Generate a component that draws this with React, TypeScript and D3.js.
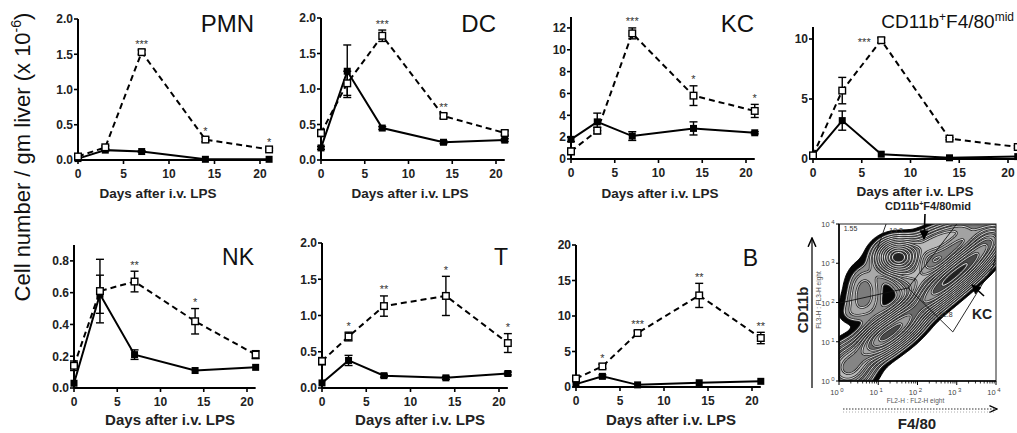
import React from 'react';
import * as d3 from 'd3';

const FONT = "'Liberation Sans', Arial, Helvetica, sans-serif";

// ---------- data ----------
const days = [0, 3, 7, 14, 21];
const xTicks = [0, 5, 10, 15, 20];

const pmnLps = [0.05, 0.18, 1.53, 0.29, 0.15];
const pmnLpsErr = [0.02, 0.02, 0.03, 0.03, 0.02];
const pmnCtl = [0.02, 0.14, 0.12, 0.01, 0.01];
const pmnCtlErr = [0, 0.01, 0.01, 0, 0];
const pmnStars = ['', '', '***', '*', '*'];
const pmnTicks = [0, 0.5, 1.0, 1.5, 2.0];

const dcLps = [0.38, 1.08, 1.75, 0.62, 0.38];
const dcLpsErr = [0.05, 0.17, 0.08, 0.03, 0.03];
const dcCtl = [0.17, 1.25, 0.45, 0.25, 0.28];
const dcCtlErr = [0.02, 0.37, 0.02, 0.02, 0.02];
const dcStars = ['', '', '***', '**', ''];
const dcTicks = [0, 0.5, 1.0, 1.5, 2.0];

const kcLps = [0.7, 2.6, 11.5, 5.8, 4.4];
const kcLpsErr = [0.3, 0.3, 0.5, 0.9, 0.6];
const kcCtl = [1.8, 3.4, 2.1, 2.8, 2.4];
const kcCtlErr = [0.2, 0.8, 0.4, 0.6, 0.1];
const kcStars = ['', '', '***', '*', '*'];
const kcTicks = [0, 2, 4, 6, 8, 10, 12];

const midLps = [0.3, 5.7, 9.9, 1.7, 1.0];
const midLpsErr = [0.1, 1.1, 0.2, 0.1, 0.1];
const midCtl = [0.3, 3.2, 0.4, 0.1, 0.2];
const midCtlErr = [0, 0.8, 0, 0, 0];
const midStars = ['', '', '***', '', ''];
const midTicks = [0, 5, 10];

const nkLps = [0.14, 0.61, 0.67, 0.42, 0.21];
const nkLpsErr = [0.03, 0.2, 0.065, 0.08, 0.025];
const nkCtl = [0.03, 0.59, 0.21, 0.11, 0.13];
const nkCtlErr = [0, 0.12, 0.03, 0, 0];
const nkStars = ['', '', '**', '*', ''];
const nkTicks = [0, 0.2, 0.4, 0.6, 0.8];

const tLps = [0.37, 0.71, 1.13, 1.27, 0.62];
const tLpsErr = [0.05, 0.06, 0.14, 0.27, 0.13];
const tCtl = [0.07, 0.38, 0.17, 0.14, 0.2];
const tCtlErr = [0, 0.07, 0.02, 0.02, 0.02];
const tStars = ['', '*', '**', '*', '*'];
const tTicks = [0, 0.5, 1.0, 1.5, 2.0];

const bLps = [1.2, 2.9, 7.6, 12.9, 6.9];
const bLpsErr = [0.3, 0.3, 0.3, 1.7, 0.8];
const bCtl = [0.4, 1.5, 0.3, 0.6, 0.8];
const bCtlErr = [0, 0.2, 0, 0, 0];
const bStars = ['', '*', '***', '**', '**'];
const bTicks = [0, 5, 10, 15, 20];

// flow plot: density blobs (log10 F4/80, log10 CD11b, sigma along, sigma across, angle, weight)
const flowBlobs: number[][] = [
  [1.5, 3.15, 0.32, 0.26, 0, 1.35],
  [2.35, 3.45, 0.4, 0.22, 10, 0.35],
  [0.65, 2.35, 0.28, 0.38, 0, 0.25],
  [0.55, 1.9, 0.35, 0.25, 0, 0.1],
  [0.3, 1.7, 0.2, 0.15, 0, 0.06],
  [2.95, 3.8, 0.5, 0.2, 15, 0.35],
  [0.25, 0.35, 0.4, 0.35, 40, 0.55],
  [1.05, 1.05, 0.42, 0.25, 35, 0.95],
  [1.65, 1.5, 0.4, 0.25, 40, 0.8],
  [2.3, 2.15, 0.42, 0.24, 42, 0.75],
  [2.8, 2.6, 0.4, 0.24, 45, 0.85],
  [3.3, 3.0, 0.4, 0.24, 45, 0.85],
  [3.8, 3.5, 0.4, 0.24, 45, 0.7],
  [1.95, 2.65, 0.38, 0.25, 30, 0.3],
];
const flowLevels = [0.03, 0.07, 0.11, 0.16, 0.22, 0.29, 0.37, 0.46, 0.56, 0.67, 0.79, 0.9];
const flowFills = ['#050505', '#8e8e8e', '#a8a8a8', '#7c7c7c', '#a2a2a2', '#bababa', '#858585', '#a8a8a8', '#6a6a6a', '#999999', '#4a4a4a', '#222222'];
const flowDecades = [0, 1, 2, 3, 4];
const gateMid: number[][] = [[0.03, 1.99], [1.76, 2.37], [3.0, 4.0]];
const gateMidLeft: number[][] = [[1.2, 4.0], [0.95, 3.3]];
const gateKC: number[][] = [[1.76, 2.37], [2.9, 1.25], [3.92, 2.9], [4.0, 3.2]];
const gateLabels = ['1.55', '19.3', '32.8'];
const gateLabelPos: number[][] = [[0.12, 3.82], [1.28, 3.78], [2.55, 1.62]];

// ---------- layout ----------
type Cfg = {
  title: React.ReactNode; x0: number; dayPx: number; yBase: number; yTop: number; yMax: number;
  titleX: number; titleY: number; titleSize: number; xLabelX: number; xLabelY: number; xLabelSize: number;
  fmt: string; starLeft?: number;
};

function Panel({ cfg, lps, lpsErr, ctl, ctlErr, stars, ticks }: {
  cfg: Cfg; lps: number[]; lpsErr: number[]; ctl: number[]; ctlErr: number[]; stars: string[]; ticks: number[];
}) {
  const x = d3.scaleLinear().domain([0, 21]).range([cfg.x0, cfg.x0 + 21 * cfg.dayPx]);
  const y = d3.scaleLinear().domain([0, cfg.yMax]).range([cfg.yBase, cfg.yTop]);
  const line = d3.line<number>().x((_, i) => x(days[i])).y((d) => y(d));
  const fmt = d3.format(cfg.fmt);
  const err = (vals: number[], errs: number[], key: string) =>
    vals.map((v, i) => {
      const e = errs[i];
      if (!e) return null;
      const cx = x(days[i]);
      return (
        <g key={key + i} stroke="#000" strokeWidth={1.4}>
          <line x1={cx} x2={cx} y1={y(v - e)} y2={y(v + e)} />
          <line x1={cx - 4} x2={cx + 4} y1={y(v + e)} y2={y(v + e)} />
          <line x1={cx - 4} x2={cx + 4} y1={y(v - e)} y2={y(v - e)} />
        </g>
      );
    });
  return (
    <g fontFamily={FONT}>
      <line x1={cfg.x0} x2={cfg.x0} y1={y(0)} y2={y(cfg.yMax)} stroke="#000" strokeWidth={2} />
      <line x1={cfg.x0} x2={x(21)} y1={y(0)} y2={y(0)} stroke="#000" strokeWidth={2} />
      {ticks.map((t) => (
        <g key={'yt' + t}>
          <line x1={cfg.x0 - 4} x2={cfg.x0} y1={y(t)} y2={y(t)} stroke="#000" strokeWidth={1.6} />
          <text x={cfg.x0 - 5} y={y(t) + 4.3} textAnchor="end" fontSize={12} fontWeight="bold" fill="#222">{fmt(t)}</text>
        </g>
      ))}
      {xTicks.map((t) => (
        <g key={'xt' + t}>
          <line x1={x(t)} x2={x(t)} y1={y(0)} y2={y(0) + 4} stroke="#000" strokeWidth={1.6} />
          <text x={x(t)} y={y(0) + 17.5} textAnchor="middle" fontSize={12} fontWeight="bold" fill="#222">{t}</text>
        </g>
      ))}
      <text x={cfg.xLabelX} y={cfg.xLabelY} textAnchor="middle" fontSize={cfg.xLabelSize} fontWeight="bold" fill="#222">Days after i.v. LPS</text>
      <text x={cfg.titleX} y={cfg.titleY} textAnchor="end" fontSize={cfg.titleSize} fill="#111">{cfg.title}</text>
      {err(lps, lpsErr, 'el')}
      {err(ctl, ctlErr, 'ec')}
      <path d={line(lps) || ''} fill="none" stroke="#000" strokeWidth={2} strokeDasharray="6 4" />
      <path d={line(ctl) || ''} fill="none" stroke="#000" strokeWidth={2} />
      {ctl.map((v, i) => (
        <rect key={'mc' + i} x={x(days[i]) - 3.5} y={y(v) - 3.5} width={7} height={7} fill="#000" />
      ))}
      {lps.map((v, i) => (
        <rect key={'ml' + i} x={x(days[i]) - 3.3} y={y(v) - 3.3} width={6.6} height={6.6} fill="#fff" stroke="#000" strokeWidth={1.4} />
      ))}
      {stars.map((s, i) => {
        if (!s) return null;
        if (cfg.starLeft === i) {
          return <text key={'s' + i} x={x(days[i]) - 17} y={y(lps[i]) + 6} textAnchor="middle" fontSize={11} fill="#333">{s}</text>;
        }
        return <text key={'s' + i} x={x(days[i])} y={y(lps[i] + lpsErr[i]) - 2.5} textAnchor="middle" fontSize={11} fill="#333">{s}</text>;
      })}
    </g>
  );
}

function FlowPlot() {
  const left = 839, right = 996, top = 224, bottom = 381;
  const fx = d3.scaleLinear().domain([0, 4]).range([left, right]);
  const fy = d3.scaleLinear().domain([0, 4]).range([bottom, top]);
  const n = 140;
  const vals = new Float64Array(n * n);
  for (let j = 0; j < n; j++) {
    const ly = 4 - ((j + 0.5) / n) * 4;
    for (let i = 0; i < n; i++) {
      const lx = ((i + 0.5) / n) * 4;
      let s = 0;
      for (const [bx, by, sa, sb, ang, w] of flowBlobs) {
        const a = (ang * Math.PI) / 180;
        const dx = lx - bx, dy = ly - by;
        const u = dx * Math.cos(a) + dy * Math.sin(a);
        const v = -dx * Math.sin(a) + dy * Math.cos(a);
        s += w * Math.exp(-(u * u) / (2 * sa * sa) - (v * v) / (2 * sb * sb));
      }
      vals[j * n + i] = s;
    }
  }
  const mx = d3.max(vals) || 1;
  const contours = d3.contours().size([n, n]).thresholds(flowLevels.map((l) => l * mx))(Array.from(vals));
  const path = d3.geoPath();
  const k = (right - left) / n;
  const pts = (arr: number[][]) => arr.map(([a, b]) => `${fx(a)},${fy(b)}`).join(' ');
  const minor: number[] = [];
  for (let d = 0; d < 4; d++) for (let m = 2; m < 10; m++) minor.push(d + Math.log10(m));
  return (
    <g fontFamily={FONT}>
      <defs>
        <clipPath id="flowclip"><rect x={left} y={top} width={right - left} height={bottom - top} /></clipPath>
        <marker id="arrowHead" viewBox="0 0 10 10" refX="9" refY="5" markerWidth="7" markerHeight="7" orient="auto-start-reverse">
          <path d="M0,1 L9,5 L0,9" fill="none" stroke="#000" strokeWidth={1.5} />
        </marker>
        <marker id="arrowSolid" viewBox="0 0 10 10" refX="9" refY="5" markerWidth="6" markerHeight="6" orient="auto">
          <path d="M0,0 L10,5 L0,10 z" fill="#000" />
        </marker>
      </defs>
      <g clipPath="url(#flowclip)">
        <g transform={`translate(${left},${top}) scale(${k})`}>
          {contours.map((c, i) => {
            const d = path(c as any) || '';
            return (
              <g key={i}>
                <path d={d} fill={flowFills[i]} stroke={i === 0 ? '#000' : '#2e2e2e'} strokeWidth={i === 0 ? 1 : 2.6} vectorEffect="non-scaling-stroke" strokeLinejoin="round" />
                {i > 0 && <path d={d} fill="none" stroke="#fafafa" strokeWidth={0.9} vectorEffect="non-scaling-stroke" strokeLinejoin="round" />}
              </g>
            );
          })}
        </g>
        <polyline points={pts(gateMid)} fill="none" stroke="#111" strokeWidth={0.9} />
        <polyline points={pts(gateMidLeft)} fill="none" stroke="#111" strokeWidth={0.9} />
        <polyline points={pts(gateKC)} fill="none" stroke="#111" strokeWidth={0.9} />
      </g>
      <rect x={left} y={top} width={right - left} height={bottom - top} fill="none" stroke="#222" strokeWidth={1} />
      <line x1={left} x2={right} y1={bottom} y2={bottom} stroke="#000" strokeWidth={1.6} />
      <line x1={left} x2={left} y1={top} y2={bottom} stroke="#000" strokeWidth={1.6} />
      {gateLabels.map((g, i) => (
        <text key={g} x={fx(gateLabelPos[i][0])} y={fy(gateLabelPos[i][1])} fontSize={7} fill="#333">{g}</text>
      ))}
      {flowDecades.map((d) => (
        <g key={'fd' + d}>
          <line x1={fx(d)} x2={fx(d)} y1={bottom} y2={bottom + 4} stroke="#000" strokeWidth={1} />
          <line x1={left - 3} x2={left} y1={fy(d)} y2={fy(d)} stroke="#000" strokeWidth={1} />
          <text x={fx(d) - 2} y={bottom + 14} textAnchor="middle" fontSize={7.5} fill="#444">10<tspan fontSize={6} dy={-3}>{' ' + d}</tspan></text>
          <text x={left - 11} y={fy(d) + 3} textAnchor="middle" fontSize={7.5} fill="#444">10<tspan fontSize={6} dy={-3}>{' ' + d}</tspan></text>
        </g>
      ))}
      {minor.map((m, i) => (
        <line key={'mn' + i} x1={fx(m)} x2={fx(m)} y1={bottom} y2={bottom + 2.5} stroke="#000" strokeWidth={0.8} />
      ))}
      <text x={fx(2) - 2} y={bottom + 22} textAnchor="middle" fontSize={6.5} fill="#555">FL2-H : FL2-H eight</text>
      <line x1={843} x2={997} y1={409} y2={409} stroke="#333" strokeWidth={1.2} strokeDasharray="1.5 1.5" markerEnd="url(#arrowHead)" />
      <line x1={843} x2={995} y1={412} y2={412} stroke="#999" strokeWidth={0.8} strokeDasharray="1 2" />
      <text x={917} y={429} textAnchor="middle" fontSize={15} fontWeight="bold" fill="#222">F4/80</text>
      <line x1={812} x2={812} y1={388} y2={238} stroke="#222" strokeWidth={1.4} markerEnd="url(#arrowHead)" />
      <text transform="translate(821,300) rotate(-90)" textAnchor="middle" fontSize={6.5} fill="#555">FL3-H : FL3-H eight</text>
      <text transform="translate(808,310) rotate(-90)" textAnchor="middle" fontSize={15} fontWeight="bold" fill="#222">CD11b</text>
      <text x={928} y={210} textAnchor="middle" fontSize={11} fontWeight="bold" fill="#222">CD11b<tspan fontSize={7} dy={-4}>+</tspan><tspan dy={4}>F4/80mid</tspan></text>
      <line x1={925} x2={924} y1={214} y2={239} stroke="#000" strokeWidth={1.6} markerEnd="url(#arrowSolid)" />
      <line x1={984} x2={972} y1={296} y2={285} stroke="#000" strokeWidth={1.6} markerEnd="url(#arrowSolid)" />
      <text x={972} y={319} fontSize={14} fontWeight="bold" fill="#222">KC</text>
    </g>
  );
}

const cfgs: Cfg[] = [
  { title: 'PMN', x0: 78, dayPx: 9.1, yBase: 160, yTop: 19, yMax: 2.0, titleX: 254, titleY: 32, titleSize: 24, xLabelX: 158, xLabelY: 198, xLabelSize: 13.5, fmt: '.1f' },
  { title: 'DC', x0: 321, dayPx: 8.75, yBase: 160, yTop: 18, yMax: 2.0, titleX: 496, titleY: 32, titleSize: 24, xLabelX: 410, xLabelY: 198, xLabelSize: 13.5, fmt: '.1f' },
  { title: 'KC', x0: 571, dayPx: 8.75, yBase: 159, yTop: 17, yMax: 13, titleX: 754, titleY: 32, titleSize: 24, xLabelX: 660, xLabelY: 198, xLabelSize: 13.5, fmt: 'd' },
  {
    title: (<>CD11b<tspan fontSize={12} dy={-7}>+</tspan><tspan dy={7}>F4/80</tspan><tspan fontSize={12} dy={-7}>mid</tspan></>),
    x0: 813, dayPx: 9.75, yBase: 159, yTop: 27, yMax: 11, titleX: 1014, titleY: 28, titleSize: 19, xLabelX: 915, xLabelY: 196, xLabelSize: 13.5, fmt: 'd', starLeft: 2,
  },
  { title: 'NK', x0: 74, dayPx: 8.65, yBase: 388, yTop: 245, yMax: 0.9, titleX: 254, titleY: 265, titleSize: 23, xLabelX: 170, xLabelY: 425, xLabelSize: 15, fmt: '.1f' },
  { title: 'T', x0: 322, dayPx: 8.85, yBase: 388, yTop: 243, yMax: 2.0, titleX: 508, titleY: 265, titleSize: 23, xLabelX: 420, xLabelY: 425, xLabelSize: 15, fmt: '.1f' },
  { title: 'B', x0: 576, dayPx: 8.8, yBase: 387, yTop: 245, yMax: 20, titleX: 758, titleY: 266, titleSize: 23, xLabelX: 671, xLabelY: 425, xLabelSize: 15, fmt: 'd' },
];

export default function App() {
  return (
    <svg width={1017} height={433} viewBox="0 0 1017 433" style={{ display: 'block', position: 'absolute', left: 0, top: 0, background: '#fff' }}>
      <rect width={1017} height={433} fill="#fff" />
      <Panel cfg={cfgs[0]} lps={pmnLps} lpsErr={pmnLpsErr} ctl={pmnCtl} ctlErr={pmnCtlErr} stars={pmnStars} ticks={pmnTicks} />
      <Panel cfg={cfgs[1]} lps={dcLps} lpsErr={dcLpsErr} ctl={dcCtl} ctlErr={dcCtlErr} stars={dcStars} ticks={dcTicks} />
      <Panel cfg={cfgs[2]} lps={kcLps} lpsErr={kcLpsErr} ctl={kcCtl} ctlErr={kcCtlErr} stars={kcStars} ticks={kcTicks} />
      <Panel cfg={cfgs[3]} lps={midLps} lpsErr={midLpsErr} ctl={midCtl} ctlErr={midCtlErr} stars={midStars} ticks={midTicks} />
      <Panel cfg={cfgs[4]} lps={nkLps} lpsErr={nkLpsErr} ctl={nkCtl} ctlErr={nkCtlErr} stars={nkStars} ticks={nkTicks} />
      <Panel cfg={cfgs[5]} lps={tLps} lpsErr={tLpsErr} ctl={tCtl} ctlErr={tCtlErr} stars={tStars} ticks={tTicks} />
      <Panel cfg={cfgs[6]} lps={bLps} lpsErr={bLpsErr} ctl={bCtl} ctlErr={bCtlErr} stars={bStars} ticks={bTicks} />
      <FlowPlot />
      <text transform="translate(30,157) rotate(-90)" textAnchor="middle" fontFamily={FONT} fontSize={22} fill="#111">
        Cell number / gm liver (x 10<tspan fontSize={14} dy={-9}>-6</tspan><tspan dy={9}>)</tspan>
      </text>
    </svg>
  );
}
